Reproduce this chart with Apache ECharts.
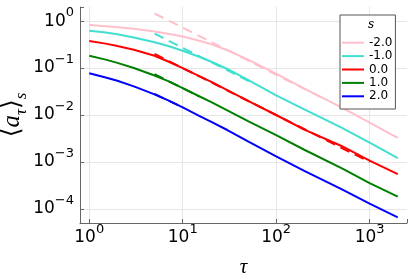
<!DOCTYPE html>
<html><head><meta charset="utf-8">
<script src="https://cdn.jsdelivr.net/npm/echarts@6/dist/echarts.min.js"></script>
<style>html,body{margin:0;padding:0;background:#fff}#c{width:415px;height:277px}</style>
</head><body><div id="c"></div>
<script>
// tau values (x)
const tau = [1, 1.5, 2, 3, 5, 7, 10, 15, 20, 30, 50, 100, 200, 500, 1000, 2000];
// series labels (s)
const sLabels = ['-2.0', '-1.0', '0.0', '1.0', '2.0'];
// <a_tau>_s for each s (solid curves)
const valsM2 = [0.822, 0.776, 0.741, 0.684, 0.603, 0.537, 0.468, 0.380, 0.324, 0.240, 0.151, 0.0759, 0.0363, 0.0145, 0.00692, 0.00324];
const valsM1 = [0.622, 0.569, 0.525, 0.447, 0.355, 0.295, 0.234, 0.174, 0.138, 0.0955, 0.0562, 0.0263, 0.0132, 0.00537, 0.00257, 0.00120];
const vals0  = [0.375, 0.331, 0.295, 0.245, 0.182, 0.138, 0.100, 0.0676, 0.0513, 0.0339, 0.0200, 0.0100, 0.0049, 0.00219, 0.00107, 0.00055];
const valsP1 = [0.183, 0.151, 0.129, 0.100, 0.0692, 0.0525, 0.0372, 0.0251, 0.0191, 0.0126, 0.00741, 0.00372, 0.00182, 0.00074, 0.000355, 0.000182];
const valsP2 = [0.0776, 0.0631, 0.0537, 0.0407, 0.0275, 0.0204, 0.0145, 0.00955, 0.00724, 0.00479, 0.00275, 0.00132, 0.000646, 0.000263, 0.000129, 0.0000661];
// dashed asymptotes (endpoints)
const dashTauM2 = [5, 300];   const dashM2 = [1.45, 0.0240];
const dashTauM1 = [5, 60];    const dashM1 = [0.538, 0.0448];
const dashTau0  = [5, 1000];  const dash0  = [0.200, 0.00100];
const dashTauP1 = [5, 15];    const dashP1 = [0.0743, 0.0248];
const dashTauP2 = [5, 10];    const dashP2 = [0.0280, 0.0145];
// tick exponents
const xTickExp = [0, 1, 2, 3];
const yTickExp = [-4, -3, -2, -1, 0];

const colors = ['#ffc0cb', '#40e0d0', '#ff0000', '#008000', '#0000ff'];
const solid = [valsM2, valsM1, vals0, valsP1, valsP2];
const dashT = [dashTauM2, dashTauM1, dashTau0, dashTauP1, dashTauP2];
const dashV = [dashM2, dashM1, dash0, dashP1, dashP2];

const pair = (xs, ys) => xs.map((x, i) => [x, ys[i]]);
const fmtPow = v => {
  const l = Math.log10(v), e = Math.round(l);
  if (Math.abs(l - e) > 1e-6) return '';
  return '{b|10}{s|' + (e < 0 ? '\u2212' + (-e) : e) + '}';
};
const rich = {
  b: {fontSize: 17, lineHeight: 17, fontFamily: 'DejaVu Sans', color: '#000', verticalAlign: 'bottom'},
  s: {fontSize: 13, lineHeight: 13, fontFamily: 'DejaVu Sans', color: '#000', verticalAlign: 'bottom', padding: [0, 0, 10, 0]}
};
const gridColors = (n) => { const a = ['rgba(0,0,0,0)']; for (let i = 0; i < n; i++) a.push('#e6e6e6'); a.push('rgba(0,0,0,0)'); return a; };

const series = [];
solid.forEach((v, i) => series.push({
  name: sLabels[i], type: 'line', data: pair(tau, v), symbol: 'none', smooth: false,
  lineStyle: {color: colors[i], width: 2}, itemStyle: {color: colors[i]}, z: 2
}));
dashT.forEach((t, i) => series.push({
  name: 'fit' + i, type: 'line', data: pair(t, dashV[i]), symbol: 'none',
  lineStyle: {color: colors[i], width: 2, type: [10, 6]}, itemStyle: {color: colors[i]}, z: 3
}));

const chart = echarts.init(document.getElementById('c'), null, {renderer: 'canvas'});
chart.setOption({
  animation: false,
  backgroundColor: '#fff',
  grid: {left: 80, right: 8, top: 7, bottom: 54, containLabel: false, outerBoundsMode: 'none'},
  title: {text: 's', left: 368, top: 19, textStyle: {fontFamily: 'DejaVu Serif', fontStyle: 'italic', fontWeight: 'normal', fontSize: 12, color: '#000'}, padding: 0},
  legend: {
    data: sLabels, orient: 'vertical', left: 340, top: 15, padding: [21, 3, 6, 2],
    icon: 'rect', itemWidth: 22, itemHeight: 2, itemGap: 0,
    backgroundColor: '#fff', borderColor: '#555', borderWidth: 1, borderRadius: 0,
    textStyle: {fontFamily: 'DejaVu Sans', fontSize: 12, color: '#000', lineHeight: 13.4}
  },
  xAxis: {
    type: 'log', logBase: 10, min: Math.pow(10, -0.099), max: Math.pow(10, 3.40),
    name: 'τ', nameLocation: 'middle', nameGap: 34, nameMoveOverlap: false,
    nameTextStyle: {fontFamily: 'Liberation Serif', fontStyle: 'italic', fontSize: 21, color: '#000'},
    axisLine: {lineStyle: {color: '#666', width: 1}},
    axisTick: {inside: true, length: 4, lineStyle: {color: '#666'}},
    axisLabel: {formatter: fmtPow, rich: rich, margin: 6, showMinLabel: true, showMaxLabel: true},
    splitLine: {show: true, lineStyle: {color: gridColors(xTickExp.length), width: 1}},
    minorTick: {show: false}
  },
  yAxis: {
    type: 'log', logBase: 10, min: Math.pow(10, -4.3), max: Math.pow(10, 0.3),
    name: '{m|⟨}{i|a}{sub|τ}{m|⟩}{sub|s}', nameLocation: 'middle', nameGap: 50, nameRotate: 90, nameMoveOverlap: false,
    nameTextStyle: {
      rich: {
        m: {fontFamily: 'DejaVu Sans', fontSize: 25, lineHeight: 24, color: '#000', verticalAlign: 'bottom', padding: [0, 0, 5, 0]},
        i: {fontFamily: 'Liberation Serif', fontStyle: 'italic', fontSize: 25, lineHeight: 24, color: '#000', verticalAlign: 'bottom', padding: [0, 0, 5, 0]},
        sub: {fontFamily: 'Liberation Serif', fontStyle: 'italic', fontSize: 17, lineHeight: 17, color: '#000', verticalAlign: 'bottom'}
      }
    },
    axisLine: {show: true, lineStyle: {color: '#666', width: 1}},
    axisTick: {show: true, inside: true, length: 4, lineStyle: {color: '#666'}},
    axisLabel: {formatter: fmtPow, rich: rich, margin: 6},
    splitLine: {show: true, lineStyle: {color: gridColors(yTickExp.length), width: 1}},
    minorTick: {show: false}
  },
  series: series
});
</script></body></html>
